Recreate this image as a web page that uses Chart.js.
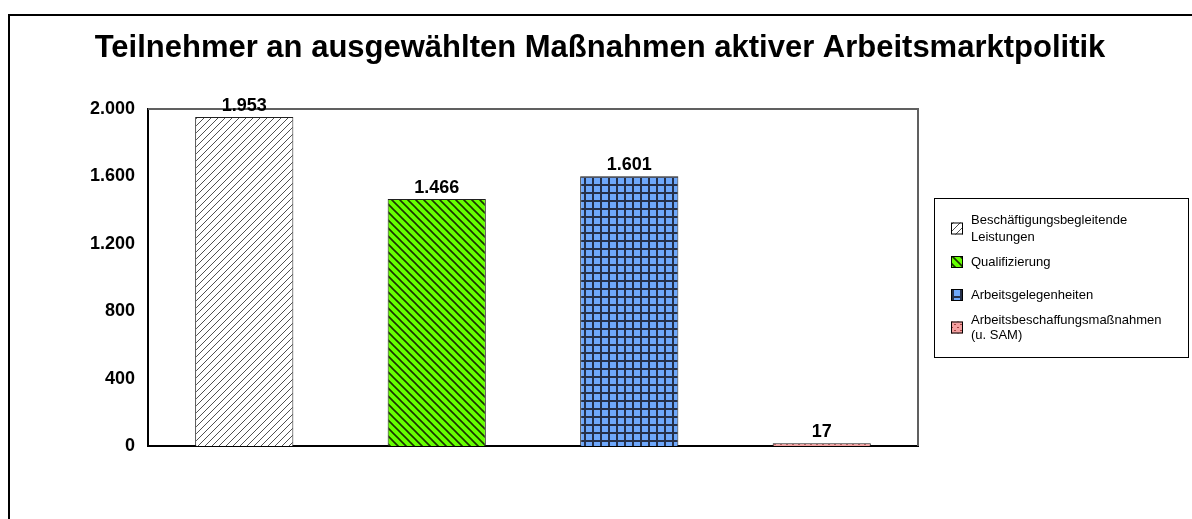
<!DOCTYPE html>
<html>
<head>
<meta charset="utf-8">
<script src="https://cdn.jsdelivr.net/npm/chart.js@4/dist/chart.umd.min.js"></script>
<style>
  html,body{margin:0;padding:0;background:#fff;}
  #wrap{width:1192px;height:519px;}
</style>
</head>
<body>
<div id="wrap"><canvas id="chart" width="1192" height="519"></canvas></div>
<script>
/* DATA */

const chartTitle =
"Teilnehmer an ausgewählten Maßnahmen aktiver Arbeitsmarktpolitik";

const categories = [
  "Beschäftigungsbegleitende Leistungen",
  "Qualifizierung",
  "Arbeitsgelegenheiten",
  "Arbeitsbeschaffungsmaßnahmen (u. SAM)"
];

const legendLines = [
  ["Beschäftigungsbegleitende","Leistungen"],
  ["Qualifizierung"],
  ["Arbeitsgelegenheiten"],
  ["Arbeitsbeschaffungsmaßnahmen","(u. SAM)"]
];

const values = [1953, 1466, 1601, 17];

const yTicks = [0, 400, 800, 1200, 1600, 2000];

const FONT = "Arial, 'Liberation Sans', sans-serif";

/* PATTERNS */

function makePattern(kind){

  const c = document.createElement("canvas");
  const g = c.getContext("2d");

  if(kind === "slash"){
    c.width = 7; c.height = 7;
    g.fillStyle = "#ffffff";
    g.fillRect(0,0,7,7);
    g.strokeStyle = "#505050";
    g.lineWidth = 1;
    g.beginPath();
    g.moveTo(-1,8); g.lineTo(8,-1);
    g.moveTo(-8,8); g.lineTo(1,-1);
    g.moveTo(6,8); g.lineTo(15,-1);
    g.stroke();
  }

  if(kind === "backslash"){
    c.width = 8; c.height = 8;
    g.fillStyle = "#66ff00";
    g.fillRect(0,0,8,8);
    g.strokeStyle = "#1a3300";
    g.lineWidth = 1.6;
    g.beginPath();
    g.moveTo(-1,-1); g.lineTo(9,9);
    g.moveTo(-9,-1); g.lineTo(1,9);
    g.moveTo(7,-1); g.lineTo(17,9);
    g.stroke();
  }

  if(kind === "grid"){
    c.width = 8; c.height = 8;
    g.fillStyle = "#6ea8fc";
    g.fillRect(0,0,8,8);
    g.fillStyle = "#25304a";
    g.fillRect(0,0,8,2);
    g.fillRect(0,0,2,8);
  }

  if(kind === "diamond"){
    c.width = 6; c.height = 6;
    g.fillStyle = "#f4a0a0";
    g.fillRect(0,0,6,6);
    g.fillStyle = "#a04040";
    g.fillRect(0,0,2,1);
    g.fillRect(3,3,2,1);
  }

  const ctx0 =
  document.getElementById("chart").getContext("2d");

  return ctx0.createPattern(c,"repeat");
}

const barFills = [
  makePattern("slash"),
  makePattern("backslash"),
  makePattern("grid"),
  makePattern("diamond")
];

/* FRAME, TITLE, PLOT BORDER, VALUE LABELS, LEGEND */

const decorPlugin = {

  id:"decor",

  beforeDraw(chart){
    const g = chart.ctx;
    g.save();

    // outer frame (only top and left are inside the picture)
    g.strokeStyle = "#000";
    g.lineWidth = 2;
    g.beginPath();
    g.moveTo(9,530);
    g.lineTo(9,15);
    g.lineTo(1200,15);
    g.stroke();

    // title
    g.fillStyle = "#000";
    g.font = "bold 31px " + FONT;
    g.textAlign = "center";
    g.textBaseline = "alphabetic";
    g.fillText(chartTitle, 600, 57);

    g.restore();
  },

  beforeDatasetsDraw(chart){
    const a = chart.chartArea;
    const g = chart.ctx;
    g.save();
    g.strokeStyle = "#606060";
    g.lineWidth = 2;
    g.beginPath();
    g.moveTo(a.left,a.top);
    g.lineTo(a.right,a.top);
    g.lineTo(a.right,a.bottom);
    g.stroke();
    g.restore();
  },

  afterDatasetsDraw(chart){

    const g = chart.ctx;
    const meta = chart.getDatasetMeta(0);

    g.save();
    g.font = "bold 18px " + FONT;
    g.fillStyle = "#000";
    g.textAlign = "center";
    g.textBaseline = "alphabetic";

    meta.data.forEach((bar,i)=>{
      const txt =
      values[i].toLocaleString("de-DE");
      g.fillText(txt, bar.x, bar.y - 6);
    });

    /* legend box */
    const bx = 934, by = 198, bw = 254, bh = 159;
    g.strokeStyle = "#000";
    g.lineWidth = 1;
    g.strokeRect(bx + 0.5, by + 0.5, bw, bh);

    const rows = [
      [220, 237],
      [262],
      [295],
      [320, 335]
    ];

    g.font = "13px " + FONT;
    g.textAlign = "left";
    g.textBaseline = "middle";

    legendLines.forEach((lines,i)=>{

      const ys = rows[i];
      const mid = (ys[0] + ys[ys.length-1]) / 2;

      g.fillStyle = barFills[i];
      g.fillRect(951, mid - 6, 12, 12);
      g.strokeStyle = "#000";
      g.strokeRect(951.5, mid - 5.5, 11, 11);

      g.fillStyle = "#000";
      lines.forEach((t,k)=>{
        g.fillText(t, 971, ys[k]);
      });

    });

    g.restore();
  }

};

/* CHART */

const ctx =
document.getElementById("chart");

const chart = new Chart(ctx,{

  type:"bar",

  data:{
    labels:categories,
    datasets:[{
      data:values,
      backgroundColor:barFills,
      borderColor:"#202020",
      borderWidth:1,
      categoryPercentage:1,
      barPercentage:0.51
    }]
  },

  options:{
    responsive:false,
    animation:false,
    locale:"de-DE",
    layout:{
      padding:{left:0, top:109, right:1192-918, bottom:519-446}
    },
    plugins:{
      legend:{display:false},
      tooltip:{enabled:false},
      title:{display:false}
    },
    scales:{
      x:{
        grid:{display:false, drawTicks:false},
        ticks:{display:false},
        border:{display:true, color:"#000", width:2},
        afterFit(s){ s.height = 0; }
      },
      y:{
        min:0,
        max:2000,
        afterBuildTicks(s){
          s.ticks = yTicks.map(v=>({value:v}));
        },
        grid:{display:false, drawTicks:false},
        border:{display:true, color:"#000", width:2},
        ticks:{
          color:"#000",
          padding:13,
          font:{family:FONT, size:18, weight:"bold"},
          callback:(v)=>v.toLocaleString("de-DE")
        },
        afterFit(s){ s.width = 148; }
      }
    }
  },

  plugins:[decorPlugin]

});
</script>
</body>
</html>
